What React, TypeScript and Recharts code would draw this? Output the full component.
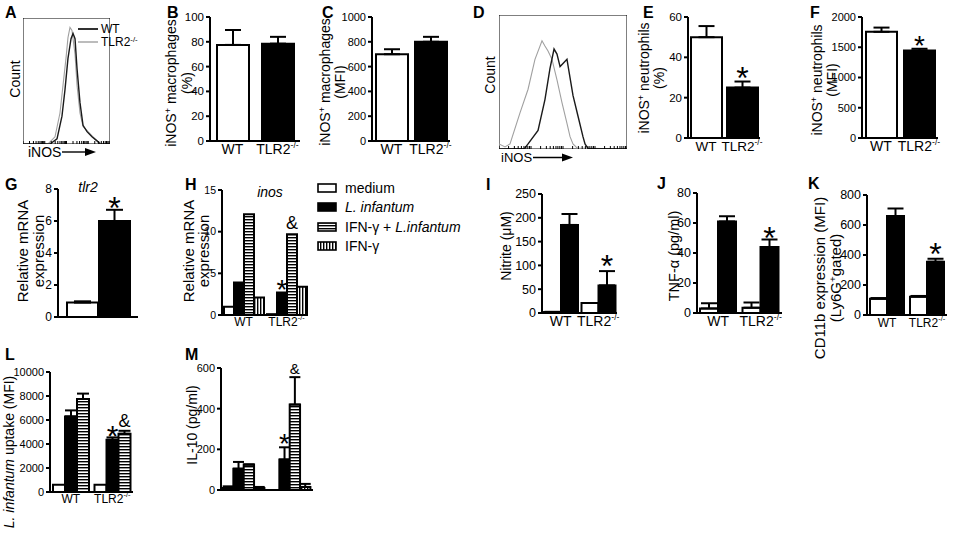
import React from 'react';
import { BarChart, Bar, XAxis, YAxis, ErrorBar, Cell, LabelList, LineChart, Line, ReferenceArea } from 'recharts';

const FONT = '"Liberation Sans", Arial, Helvetica, sans-serif';

// ---------- categories ----------
const genotypes = ['WT', 'TLR2-/-'];
const treatments = ['medium', 'L. infantum', 'IFN-γ + L.infantum', 'IFN-γ'];

// ---------- A: histogram (iNOS, macrophages) ----------
const histTicks = [0, 7.5, 12, 15, 17.5, 19.5, 21, 22.5, 23.8, 25, 32.5, 37, 40, 42.5, 44.5, 46, 47.5, 48.8, 50, 57.5, 62, 65, 67.5, 69.5, 71, 72.5, 73.8, 75, 82.5, 87, 90, 92.5, 94.5, 96, 97.5, 98.8, 100];
const aKoX = [0, 28.7, 36.8, 42.5, 46, 49.4, 51.7, 54, 56.3, 59.8, 62.1, 65.5, 69, 74.7, 80.5, 86.2, 90.8, 100];
const aKoY = [0, 0, 5.7, 24.6, 46.7, 68, 84.4, 92.6, 90.2, 71.3, 46.7, 24.6, 13.9, 9.8, 5.7, 1.6, 0, 0];
const aWtX = [0, 31, 39.1, 44.8, 48.3, 51.7, 55.2, 57.5, 59.8, 62.1, 65.5, 69, 73.6, 79.3, 85.1, 88.5, 100];
const aWtY = [0, 0, 4.1, 22.1, 43.4, 68, 83.6, 87.7, 83.6, 59.8, 32.8, 14.8, 9.8, 5.7, 2.5, 0, 0];

// ---------- D: histogram (iNOS, neutrophils) ----------
const dKoX = [0, 4.7, 8.6, 16.4, 22.7, 28.1, 33.6, 35.9, 38.3, 41.4, 45.3, 49.2, 53.1, 55.5, 57.8, 61, 100];
const dKoY = [3.8, 1.5, 3.8, 26.9, 44.6, 66.9, 80.8, 76.9, 73.1, 66.9, 51.5, 34.6, 19.2, 9.2, 3.8, 0.8, 0];
const dWtX = [0, 20, 22.7, 30.5, 35.9, 39.8, 43, 45.3, 47.7, 50, 53.1, 54.7, 57.8, 61.7, 65.6, 67.2, 69.5, 100];
const dWtY = [0, 0.5, 3.8, 13.8, 36.9, 60, 74.6, 70.8, 61.5, 63.8, 66.9, 57.7, 40, 24.6, 9.2, 3.8, 0.5, 0];

// ---------- B ----------
const bValues = [77.5, 78.5];
const bErr = [12, 5.5];
const bTicks = [0, 20, 40, 60, 80, 100];
// ---------- C ----------
const cValues = [700, 800];
const cErr = [40, 40];
const cTicks = [0, 200, 400, 600, 800, 1000];
// ---------- E ----------
const eValues = [50, 25];
const eErr = [5.5, 3];
const eMarks = ['', '*'];
const eTicks = [0, 20, 40, 60];
// ---------- F ----------
const fValues = [1755, 1445];
const fErr = [70, 30];
const fMarks = ['', '*'];
const fTicks = [0, 500, 1000, 1500, 2000];
// ---------- G ----------
const gWt = [0.9];
const gWtErr = [0.08];
const gKo = [6.0];
const gKoErr = [0.7];
const gMarks = ['*'];
const gTicks = [0, 2, 4, 6, 8];
// ---------- H ----------
const hMedium = [1.0, 0.1];
const hLinf = [3.9, 2.7];
const hIfnLinf = [12.1, 9.7];
const hIfn = [2.1, 3.4];
const hLinfMarks = ['', '*'];
const hIfnLinfMarks = ['', '&'];
const hTicks = [0, 5, 10, 15];
// ---------- I ----------
const iMedium = [2, 21];
const iMediumErr = [0.5, 0];
const iLinf = [185, 58];
const iLinfErr = [23, 30];
const iMarks = ['', '*'];
const iTicks = [0, 50, 100, 150, 200, 250];
// ---------- J ----------
const jMedium = [3, 3.5];
const jMediumErr = [3.5, 3.5];
const jLinf = [61, 44];
const jLinfErr = [3.5, 5];
const jMarks = ['', '*'];
const jTicks = [0, 20, 40, 60, 80];
// ---------- K ----------
const kMedium = [108, 122];
const kMediumErr = [5, 5];
const kLinf = [660, 355];
const kLinfErr = [50, 20];
const kMarks = ['', '*'];
const kTicks = [0, 200, 400, 600, 800];
// ---------- L ----------
const lMedium = [600, 600];
const lLinf = [6300, 4350];
const lLinfErr = [500, 200];
const lIfnLinf = [7750, 4850];
const lIfnLinfErr = [450, 250];
const lLinfMarks = ['', '*'];
const lIfnLinfMarks = ['', '&'];
const lTicks = [0, 2000, 4000, 6000, 8000, 10000];
// ---------- M ----------
const mMedium = [10, 0];
const mMediumErr = [8, 0];
const mLinf = [105, 150];
const mLinfErr = [33, 60];
const mIfnLinf = [125, 420];
const mIfnLinfErr = [0, 135];
const mIfn = [10, 15];
const mIfnErr = [5, 15];
const mLinfMarks = ['', '*'];
const mIfnLinfMarks = ['', '&'];
const mTicks = [0, 200, 400, 600];

// ---------- helpers ----------
const pts = (xs: number[], ys: number[]) => xs.map((x, i) => ({ x, y: ys[i] }));

function CatTick(props: any) {
  const { x, y, payload, fs } = props;
  const v = String(payload?.value ?? '');
  const isKo = v.endsWith('-/-');
  const base = isKo ? v.slice(0, -3) : v;
  return (
    <text x={x} y={y} dy={fs * 0.71} textAnchor="middle" fontSize={fs} fontFamily={FONT} fill="#000">
      {base}
      {isKo ? <tspan fontSize={fs * 0.62} dy={-fs * 0.42}>-/-</tspan> : null}
    </text>
  );
}

const EmptyTick = () => <g />;

const markRenderer = (size: number, dy: number) => (props: any) => {
  const raw = props.value;
  if (!raw || typeof raw !== 'string') return null;
  const [txt, vs, es] = raw.split('|');
  const vb = props.viewBox ?? props;
  const x = Number(vb.x), y = Number(vb.y), w = Number(vb.width), h = Number(vb.height);
  const v = parseFloat(vs);
  const e = parseFloat(es);
  const top = Math.min(y, y + h);
  const k = v ? Math.abs(h) / v : 0;
  return (
    <text x={x + w / 2} y={top - e * k + dy} textAnchor="middle" fontSize={size} fontFamily={FONT} fill="#000">
      {txt}
    </text>
  );
};

type SeriesDef = {
  key: string;
  fill?: string;
  cellFills?: string[];
  errKey?: string;
  markKey?: string;
  markSize?: number;
  markDy?: number;
};

type PanelProps = {
  id: string;
  axisX: number;
  yTop: number;
  yBottom: number;
  plotW: number;
  domain: [number, number];
  ticks: number[];
  rows: any[];
  series: SeriesDef[];
  barSize: number;
  barGap?: number;
  tickFs: number;
  catFs: number;
  showCats: boolean;
  catMargin: number;
  errHalf: number;
};

function BarPanel(p: PanelProps) {
  const YW = 46, MT = 16, XH = 24, MR = 14;
  const W = YW + p.plotW + MR;
  const H = MT + (p.yBottom - p.yTop) + XH;
  return (
    <div style={{ position: 'absolute', left: p.axisX - YW, top: p.yTop - MT }}>
      <BarChart
        width={W}
        height={H}
        data={p.rows}
        margin={{ top: MT, right: MR, bottom: 0, left: 0 }}
        barSize={p.barSize}
        barGap={p.barGap ?? 0}
        barCategoryGap={0}
      >
        <defs>
          <pattern id={`hz-${p.id}`} patternUnits="userSpaceOnUse" width="4" height="3">
            <rect width="4" height="3" fill="#fff" />
            <rect width="4" height="1.4" fill="#000" />
          </pattern>
          <pattern id={`vt-${p.id}`} patternUnits="userSpaceOnUse" width="3" height="4">
            <rect width="3" height="4" fill="#fff" />
            <rect width="1.4" height="4" fill="#000" />
          </pattern>
        </defs>
        <XAxis
          dataKey="cat"
          height={XH}
          interval={0}
          axisLine={{ stroke: '#000', strokeWidth: 2 }}
          tickLine={false}
          tickSize={0}
          tickMargin={p.catMargin}
          tick={p.showCats ? <CatTick fs={p.catFs} /> : false}
        />
        <YAxis
          width={YW}
          type="number"
          domain={p.domain}
          ticks={p.ticks}
          allowDataOverflow
          interval={0}
          tickSize={4}
          tickMargin={2}
          axisLine={{ stroke: '#000', strokeWidth: 2 }}
          tickLine={{ stroke: '#000', strokeWidth: 2 }}
          tick={{ fill: '#000', fontSize: p.tickFs, fontFamily: FONT }}
        />
        {p.series.map((s) => (
          <Bar
            key={s.key}
            dataKey={s.key}
            fill={s.fill ?? '#fff'}
            stroke="#000"
            strokeWidth={2}
            isAnimationActive={false}
          >
            {s.cellFills ? p.rows.map((_, i) => <Cell key={i} fill={s.cellFills![i]} />) : null}
            {s.errKey ? (
              <ErrorBar dataKey={s.errKey} width={p.errHalf} stroke="#000" strokeWidth={2} direction="y" />
            ) : null}
            {s.markKey ? (
              <LabelList
                dataKey={(r: any) =>
                  r[s.markKey!] ? `${r[s.markKey!]}|${r[s.key]}|${s.errKey ? r[s.errKey][1] : 0}` : ''
                }
                content={markRenderer(s.markSize ?? 32, s.markDy ?? 8)}
              />
            ) : null}
          </Bar>
        ))}
      </BarChart>
    </div>
  );
}

function Histogram({ left, top, w, h, wt, ko }: { left: number; top: number; w: number; h: number; wt: any[]; ko: any[] }) {
  const AX = 4;
  return (
    <div style={{ position: 'absolute', left, top }}>
      <LineChart width={w} height={h + AX} margin={{ top: 0, right: 0, bottom: 0, left: 0 }}>
        <XAxis
          type="number"
          dataKey="x"
          domain={[0, 100]}
          ticks={histTicks}
          interval={0}
          allowDataOverflow
          tick={EmptyTick}
          tickSize={3}
          mirror
          axisLine={false}
          tickLine={{ stroke: '#000', strokeWidth: 1 }}
          height={AX}
        />
        <YAxis type="number" domain={[0, 100]} hide allowDataOverflow />
        <ReferenceArea x1={0} x2={100} y1={0} y2={100} fill="none" fillOpacity={0} stroke="#000" strokeWidth={1} />
        <Line data={ko} dataKey="y" type="linear" stroke="#a0a0a0" strokeWidth={1.1} dot={false} isAnimationActive={false} />
        <Line data={wt} dataKey="y" type="linear" stroke="#1a1a1a" strokeWidth={1.4} dot={false} isAnimationActive={false} />
      </LineChart>
    </div>
  );
}

// text overlays
function T({ x, y, fs, bold, italic, anchor, children }: any) {
  const tx = anchor === 'middle' ? '-50%' : anchor === 'end' ? '-100%' : '0';
  return (
    <div
      style={{
        position: 'absolute',
        left: x,
        top: y,
        transform: `translate(${tx}, -50%)`,
        fontSize: fs,
        fontWeight: bold ? 700 : 400,
        fontStyle: italic ? 'italic' : 'normal',
        lineHeight: 1,
        whiteSpace: 'nowrap',
      }}
    >
      {children}
    </div>
  );
}

function VLabel({ cx, cy, fs, lh, children }: any) {
  return (
    <div
      style={{
        position: 'absolute',
        left: cx,
        top: cy,
        transform: 'translate(-50%, -50%) rotate(-90deg)',
        fontSize: fs,
        lineHeight: `${lh ?? fs}px`,
        whiteSpace: 'nowrap',
        textAlign: 'center',
      }}
    >
      {children}
    </div>
  );
}

const Sup = ({ children }: any) => (
  <sup style={{ fontSize: '0.65em', lineHeight: 0, verticalAlign: '0.55em' }}>{children}</sup>
);

function ArrowLabel({ x, y, fs, len }: any) {
  return (
    <div style={{ position: 'absolute', left: x, top: y, transform: 'translateY(-50%)', display: 'flex', alignItems: 'center', fontSize: fs, lineHeight: 1 }}>
      <span>iNOS</span>
      <svg width={len} height={10} style={{ marginLeft: 1 }}>
        <line x1={0} y1={5} x2={len - 9} y2={5} stroke="#000" strokeWidth={1.4} />
        <polygon points={`${len - 11},1 ${len},5 ${len - 11},9`} fill="#000" />
      </svg>
    </div>
  );
}

function LegendSwatch({ kind }: { kind: number }) {
  return (
    <svg width={20} height={10} style={{ display: 'block' }}>
      <defs>
        <pattern id="lg-hz" patternUnits="userSpaceOnUse" width="4" height="3">
          <rect width="4" height="3" fill="#fff" />
          <rect width="4" height="1.4" fill="#000" />
        </pattern>
        <pattern id="lg-vt" patternUnits="userSpaceOnUse" width="3" height="4">
          <rect width="3" height="4" fill="#fff" />
          <rect width="1.4" height="4" fill="#000" />
        </pattern>
      </defs>
      <rect
        x={1}
        y={1}
        width={18}
        height={8}
        stroke="#000"
        strokeWidth={1.6}
        fill={kind === 0 ? '#fff' : kind === 1 ? '#000' : kind === 2 ? 'url(#lg-hz)' : 'url(#lg-vt)'}
      />
    </svg>
  );
}

function TreatmentLabel({ name }: { name: string }) {
  if (name === 'L. infantum') return <i>L. infantum</i>;
  if (name.includes('L.infantum')) {
    const [a] = name.split('L.infantum');
    return (
      <>
        {a}
        <i>L.infantum</i>
      </>
    );
  }
  return <>{name}</>;
}

// ---------- rows ----------
const two = (vals: number[], errs: number[], marks?: string[]) =>
  genotypes.map((g, i) => ({ cat: g, v: vals[i], e: [0, errs[i]], m: marks ? marks[i] : '' }));

const rowsB = two(bValues, bErr);
const rowsC = two(cValues, cErr);
const rowsE = two(eValues, eErr, eMarks);
const rowsF = two(fValues, fErr, fMarks);
const rowsG = [{ cat: '', wt: gWt[0], we: [0, gWtErr[0]], ko: gKo[0], ke: [0, gKoErr[0]], m: gMarks[0] }];
const rowsH = genotypes.map((g, i) => ({ cat: g, med: hMedium[i], linf: hLinf[i], ifnl: hIfnLinf[i], ifn: hIfn[i], m1: hLinfMarks[i], m2: hIfnLinfMarks[i] }));
const rowsI = genotypes.map((g, i) => ({ cat: g, med: iMedium[i], mede: [0, iMediumErr[i]], linf: iLinf[i], linfe: [0, iLinfErr[i]], m1: iMarks[i] }));
const rowsJ = genotypes.map((g, i) => ({ cat: g, med: jMedium[i], mede: [0, jMediumErr[i]], linf: jLinf[i], linfe: [0, jLinfErr[i]], m1: jMarks[i] }));
const rowsK = genotypes.map((g, i) => ({ cat: g, med: kMedium[i], mede: [0, kMediumErr[i]], linf: kLinf[i], linfe: [0, kLinfErr[i]], m1: kMarks[i] }));
const rowsL = genotypes.map((g, i) => ({ cat: g, med: lMedium[i], linf: lLinf[i], linfe: [0, lLinfErr[i]], ifnl: lIfnLinf[i], ifnle: [0, lIfnLinfErr[i]], m1: lLinfMarks[i], m2: lIfnLinfMarks[i] }));
const rowsM = genotypes.map((g, i) => ({ cat: g, med: mMedium[i], mede: [0, mMediumErr[i]], linf: mLinf[i], linfe: [0, mLinfErr[i]], ifnl: mIfnLinf[i], ifnle: [0, mIfnLinfErr[i]], ifn: mIfn[i], ifne: [0, mIfnErr[i]], m1: mLinfMarks[i], m2: mIfnLinfMarks[i] }));

const WB = ['#ffffff', '#000000'];

export default function App() {
  return (
    <div
      style={{
        position: 'absolute',
        left: 0,
        top: 0,
        width: 962,
        height: 534,
        background: '#fff',
        fontFamily: FONT,
        color: '#000',
        overflow: 'hidden',
      }}
    >
      {/* A */}
      <Histogram left={23} top={18} w={87} h={122} wt={pts(aWtX, aWtY)} ko={pts(aKoX, aKoY)} />
      {/* D */}
      <Histogram left={499} top={15} w={128} h={130} wt={pts(dWtX, dWtY)} ko={pts(dKoX, dKoY)} />

      <BarPanel id="b" axisX={210} yTop={17} yBottom={141} plotW={90} domain={[0, 100]} ticks={bTicks} rows={rowsB}
        series={[{ key: 'v', cellFills: WB, errKey: 'e' }]} barSize={32} tickFs={11.5} catFs={14} showCats catMargin={3} errHalf={8} />
      <BarPanel id="c" axisX={372} yTop={17} yBottom={141} plotW={78} domain={[0, 1000]} ticks={cTicks} rows={rowsC}
        series={[{ key: 'v', cellFills: WB, errKey: 'e' }]} barSize={32} tickFs={11} catFs={14} showCats catMargin={3} errHalf={8} />
      <BarPanel id="e" axisX={688} yTop={17} yBottom={138} plotW={72} domain={[0, 60]} ticks={eTicks} rows={rowsE}
        series={[{ key: 'v', cellFills: WB, errKey: 'e', markKey: 'm', markSize: 32, markDy: 7.5 }]} barSize={31} tickFs={11.5} catFs={13.5} showCats catMargin={3} errHalf={8} />
      <BarPanel id="f" axisX={862} yTop={17} yBottom={138} plotW={76} domain={[0, 2000]} ticks={fTicks} rows={rowsF}
        series={[{ key: 'v', cellFills: WB, errKey: 'e', markKey: 'm', markSize: 28, markDy: 6 }]} barSize={31} tickFs={11} catFs={14} showCats catMargin={3} errHalf={8} />

      <BarPanel id="g" axisX={58} yTop={189} yBottom={317} plotW={80} domain={[0, 8]} ticks={gTicks} rows={rowsG}
        series={[
          { key: 'wt', fill: '#fff', errKey: 'we' },
          { key: 'ko', fill: '#000', errKey: 'ke', markKey: 'm', markSize: 32, markDy: 9 },
        ]}
        barSize={31} barGap={1} tickFs={12} catFs={12} showCats={false} catMargin={2} errHalf={8.5} />
      <BarPanel id="h" axisX={222} yTop={190} yBottom={315} plotW={86} domain={[0, 15]} ticks={hTicks} rows={rowsH}
        series={[
          { key: 'med', fill: '#fff' },
          { key: 'linf', fill: '#000', markKey: 'm1', markSize: 28, markDy: 6 },
          { key: 'ifnl', fill: 'url(#hz-h)', markKey: 'm2', markSize: 18, markDy: -5 },
          { key: 'ifn', fill: 'url(#vt-h)' },
        ]}
        barSize={10} tickFs={10.5} catFs={12} showCats catMargin={2} errHalf={5} />
      <BarPanel id="i" axisX={542} yTop={194} yBottom={313} plotW={75} domain={[0, 250]} ticks={iTicks} rows={rowsI}
        series={[
          { key: 'med', fill: '#fff', errKey: 'mede' },
          { key: 'linf', fill: '#000', errKey: 'linfe', markKey: 'm1', markSize: 32, markDy: 6 },
        ]}
        barSize={17} tickFs={12.5} catFs={14} showCats catMargin={3} errHalf={8} />
      <BarPanel id="j" axisX={697} yTop={193} yBottom={313} plotW={85} domain={[0, 80]} ticks={jTicks} rows={rowsJ}
        series={[
          { key: 'med', fill: '#fff', errKey: 'mede' },
          { key: 'linf', fill: '#000', errKey: 'linfe', markKey: 'm1', markSize: 32, markDy: 9 },
        ]}
        barSize={18} tickFs={12.5} catFs={14} showCats catMargin={3} errHalf={8} />
      <BarPanel id="k" axisX={867} yTop={195} yBottom={315} plotW={80} domain={[0, 800]} ticks={kTicks} rows={rowsK}
        series={[
          { key: 'med', fill: '#fff', errKey: 'mede' },
          { key: 'linf', fill: '#000', errKey: 'linfe', markKey: 'm1', markSize: 32, markDy: 6 },
        ]}
        barSize={17} tickFs={12.5} catFs={12} showCats catMargin={3} errHalf={8} />

      <BarPanel id="l" axisX={50} yTop={372} yBottom={492} plotW={83} domain={[0, 10000]} ticks={lTicks} rows={rowsL}
        series={[
          { key: 'med', fill: '#fff' },
          { key: 'linf', fill: '#000', errKey: 'linfe', markKey: 'm1', markSize: 30, markDy: 9 },
          { key: 'ifnl', fill: 'url(#hz-l)', errKey: 'ifnle', markKey: 'm2', markSize: 18, markDy: -4 },
        ]}
        barSize={12} tickFs={11} catFs={12} showCats catMargin={2} errHalf={6} />
      <BarPanel id="m" axisX={221} yTop={368} yBottom={490} plotW={92} domain={[0, 600]} ticks={mTicks} rows={rowsM}
        series={[
          { key: 'med', fill: '#fff', errKey: 'mede' },
          { key: 'linf', fill: '#000', errKey: 'linfe', markKey: 'm1', markSize: 28, markDy: 6 },
          { key: 'ifnl', fill: 'url(#hz-m)', errKey: 'ifnle', markKey: 'm2', markSize: 15, markDy: -3 },
          { key: 'ifn', fill: 'url(#vt-m)', errKey: 'ifne' },
        ]}
        barSize={11.5} tickFs={11} catFs={12} showCats={false} catMargin={2} errHalf={5.5} />

      {/* panel letters */}
      <T x={5} y={13} fs={16} bold>A</T>
      <T x={167} y={13} fs={16} bold>B</T>
      <T x={322} y={13} fs={16} bold>C</T>
      <T x={473} y={13} fs={16} bold>D</T>
      <T x={643} y={13} fs={16} bold>E</T>
      <T x={810} y={13} fs={16} bold>F</T>
      <T x={5} y={185} fs={16} bold>G</T>
      <T x={185} y={185} fs={16} bold>H</T>
      <T x={486} y={185} fs={16} bold>I</T>
      <T x={657} y={184} fs={16} bold>J</T>
      <T x={808} y={184} fs={16} bold>K</T>
      <T x={5} y={355} fs={16} bold>L</T>
      <T x={185} y={355} fs={16} bold>M</T>

      {/* A legend */}
      <svg style={{ position: 'absolute', left: 78, top: 24 }} width={20} height={24}>
        <line x1={0} y1={5} x2={20} y2={5} stroke="#1a1a1a" strokeWidth={1.8} />
        <line x1={0} y1={18} x2={20} y2={18} stroke="#a0a0a0" strokeWidth={1.4} />
      </svg>
      <T x={101} y={29} fs={12}>WT</T>
      <T x={101} y={42} fs={12}>TLR2<Sup>-/-</Sup></T>

      {/* histogram axis labels */}
      <VLabel cx={15} cy={79} fs={14}>Count</VLabel>
      <ArrowLabel x={28} y={152} fs={14} len={34} />
      <VLabel cx={490} cy={75} fs={14}>Count</VLabel>
      <ArrowLabel x={501} y={157} fs={13} len={40} />

      {/* y labels */}
      <VLabel cx={179} cy={83} fs={14} lh={16}>iNOS<Sup>+</Sup> macrophages<br />(%)</VLabel>
      <VLabel cx={333} cy={82} fs={14} lh={15}>iNOS<Sup>+</Sup> macrophages<br />(MFI)</VLabel>
      <VLabel cx={652} cy={78} fs={14} lh={15}>iNOS<Sup>+</Sup> neutrophils<br />(%)</VLabel>
      <VLabel cx={825} cy={80} fs={14} lh={15}>iNOS<Sup>+</Sup> neutrophils<br />(MFI)</VLabel>
      <VLabel cx={31} cy={251} fs={15} lh={16}>Relative mRNA<br />expression</VLabel>
      <VLabel cx={196} cy={251} fs={15} lh={15}>Relative mRNA<br />expression</VLabel>
      <VLabel cx={506} cy={246} fs={14}>Nitrite (μM)</VLabel>
      <VLabel cx={674} cy={256} fs={14.5}>TNF-α (pg/ml)</VLabel>
      <VLabel cx={828} cy={278} fs={15} lh={16}>CD11b expression (MFI)<br />(Ly6G<Sup>+</Sup>gated)</VLabel>
      <VLabel cx={9} cy={452} fs={14}><i>L. infantum</i> uptake (MFI)</VLabel>
      <VLabel cx={192} cy={425} fs={14}>IL-10 (pg/ml)</VLabel>

      {/* titles */}
      <T x={88} y={187} fs={14} italic anchor="middle">tlr2</T>
      <T x={270} y={192} fs={14} italic anchor="middle">inos</T>

      {/* H legend */}
      {treatments.map((t, i) => (
        <div key={t} style={{ position: 'absolute', left: 317, top: [188, 207, 227, 246][i], transform: 'translateY(-50%)', display: 'flex', alignItems: 'center', fontSize: 14, lineHeight: 1, whiteSpace: 'nowrap' }}>
          <LegendSwatch kind={i} />
          <span style={{ marginLeft: 8 }}><TreatmentLabel name={t} /></span>
        </div>
      ))}
    </div>
  );
}
